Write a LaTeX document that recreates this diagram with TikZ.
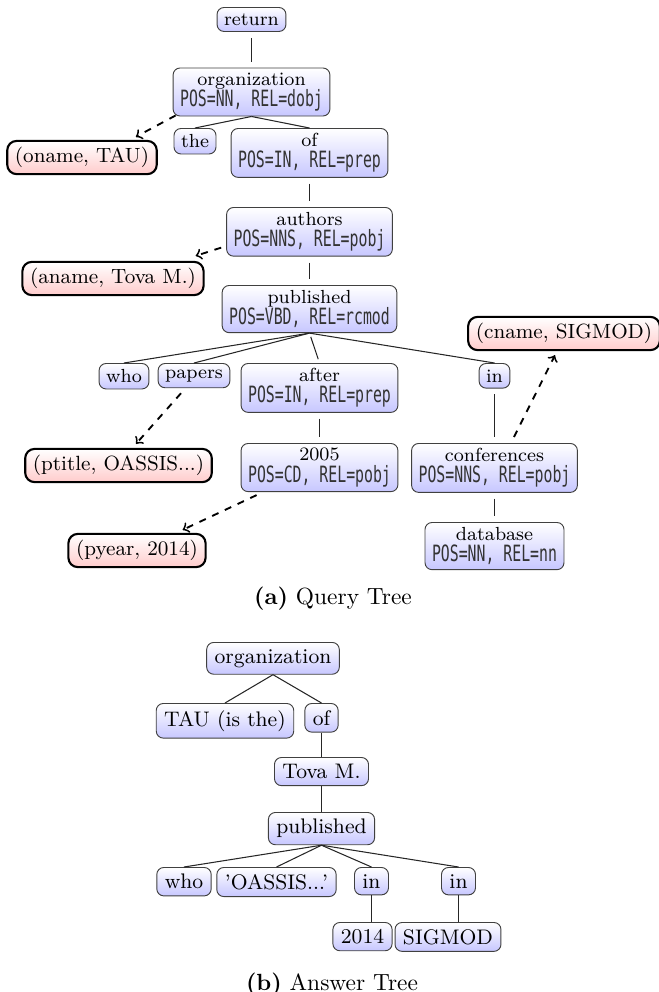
\documentclass[tikz,border=0pt]{standalone}
\usepackage{fontspec}
\usetikzlibrary{calc}
% narrow monospace face for the POS/REL annotations
\newfontfamily\relmono[FakeStretch=0.66]{DejaVu Sans Mono}
\newcommand\relinfo[1]{{\relmono\fontsize{9.6}{9}\selectfont\color{black!80}#1}}

\tikzset{
  qbox/.style={draw=black!75, line width=0.4pt, rounded corners=3pt,
    top color=white, bottom color=blue!22,
    font=\fontsize{8.1}{9}\selectfont, inner xsep=3pt, inner ysep=2.6pt,
    align=center, execute at begin node={\lineskiplimit=-20pt}},
  qbox2/.style={qbox, inner ysep=2.1pt},
  bbox/.style={qbox, font=\fontsize{9}{10}\selectfont, inner xsep=3.4pt, inner ysep=2.9pt},
  abox/.style={draw=black, line width=0.9pt, rounded corners=4pt,
    top color=white, bottom color=red!20,
    font=\fontsize{8.8}{10}\selectfont, inner xsep=3.3pt, inner ysep=2.7pt},
  tedge/.style={draw=black!85, line width=0.45pt},
  vedge/.style={tedge, shorten <=2.5pt, shorten >=2.5pt},
  darrow/.style={->, dashed, line width=0.8pt},
  capt/.style={font=\fontsize{10}{12}\selectfont}
}

\begin{document}
\begin{tikzpicture}[x=0.4274pt, y=-0.4274pt]
\useasboundingbox (0,0) rectangle (659,992);

% ---------- (a) query tree ----------
\node[qbox, anchor=north] (ret) at (251.5,7) {return};
\node[qbox2, anchor=north] (org) at (251.5,67.5) {organization\\\relinfo{POS=NN, REL=dobj}};
\node[qbox, anchor=north] (the) at (195,128) {the};
\node[qbox2, anchor=north] (of) at (309.5,128) {of\\\relinfo{POS=IN, REL=prep}};
\node[qbox2, anchor=north] (auth) at (309.5,207) {authors\\\relinfo{POS=NNS, REL=pobj}};
\node[qbox2, anchor=north] (pub) at (309.5,285) {published\\\relinfo{POS=VBD, REL=rcmod}};
\node[qbox, anchor=north] (who) at (124,363) {who};
\node[qbox, anchor=north] (pap) at (194,363) {papers};
\node[qbox2, anchor=north] (aft) at (319.5,363) {after\\\relinfo{POS=IN, REL=prep}};
\node[qbox, anchor=north] (inq) at (494.5,363) {in};
\node[qbox2, anchor=north] (yr) at (319.5,443) {2005\\\relinfo{POS=CD, REL=pobj}};
\node[qbox2, anchor=north] (conf) at (494.5,443) {conferences\\\relinfo{POS=NNS, REL=pobj}};
\node[qbox2, anchor=north] (db) at (494.5,522) {database\\\relinfo{POS=NN, REL=nn}};

\node[abox] (oname) at (82,157.5) {(oname, TAU)};
\node[abox] (aname) at (113,278.5) {(aname, Tova M.)};
\node[abox] (cname) at (564,333.5) {(cname, SIGMOD)};
\node[abox] (ptitle) at (118.5,465.5) {(ptitle, OASSIS...)};
\node[abox] (pyear) at (137,550.5) {(pyear, 2014)};

\draw[vedge] (ret.south) -- (org.north);
\draw[tedge] (org.south) -- (the.north);
\draw[tedge] (org.south) -- (of.north);
\draw[vedge] (of.south) -- (auth.north);
\draw[vedge] (auth.south) -- (pub.north);
\draw[tedge] (pub.south) -- (who.north);
\draw[tedge] (pub.south) -- (pap.north);
\draw[tedge, shorten <=1.7pt, shorten >=1.7pt] (pub.south) -- (aft.north);
\draw[tedge] (pub.south) -- (inq.north);
\draw[vedge] (aft.south) -- (yr.north);
\draw[vedge] (inq.south) -- (conf.north);
\draw[vedge] (conf.south) -- (db.north);

\draw[darrow] ($(org.south west)+(3,-1)$) -- ($(oname.north east)+(-22,-3)$);
\draw[darrow] ($(auth.south west)+(-5,-9)$) -- ($(aname.north east)+(-9,-5)$);
\draw[darrow] ($(pap.south)+(-13,5)$) -- ($(ptitle.north)+(17.5,-4)$);
\draw[darrow] ($(yr.south west)+(16,3)$) -- ($(pyear.north east)+(-24,-3)$);
\draw[darrow] ($(conf.north)+(19.5,-6)$) -- ($(cname.south)+(-9,4)$);

\node[capt] (capa) at (333,598.5) {\textbf{(a)} Query Tree};

% ---------- (b) answer tree ----------
\node[bbox, anchor=north] (borg) at (273,642) {organization};
\node[bbox, anchor=north] (btau) at (225,703) {TAU (is the)};
\node[bbox, anchor=north] (bof) at (321.5,703) {of};
\node[bbox, anchor=north] (btova) at (321.5,757) {Tova M.};
\node[bbox, anchor=north] (bpub) at (321.5,812) {published};
\node[bbox, anchor=north] (bwho) at (184,867) {who};
\node[bbox, anchor=north] (boas) at (276.5,867) {'OASSIS...'};
\node[bbox, anchor=north] (bina) at (371.5,867) {in};
\node[bbox, anchor=north] (binb) at (458.5,867) {in};
\node[bbox, anchor=north] (byr) at (362.5,922) {2014};
\node[bbox, anchor=north] (bsig) at (448,922) {SIGMOD};

\draw[tedge] (borg.south) -- (btau.north);
\draw[tedge] (borg.south) -- (bof.north);
\draw[tedge] (bof.south) -- (btova.north);
\draw[tedge] (btova.south) -- (bpub.north);
\draw[tedge] (bpub.south) -- (bwho.north);
\draw[tedge] (bpub.south) -- (boas.north);
\draw[tedge] (bpub.south) -- (bina.north);
\draw[tedge] (bpub.south) -- (binb.north);
\draw[tedge] (bina.south) -- (bina.south |- byr.north);
\draw[tedge] (binb.south) -- (binb.south |- bsig.north);

\node[capt] (capb) at (332,985) {\textbf{(b)} Answer Tree};
\end{tikzpicture}
\end{document}
